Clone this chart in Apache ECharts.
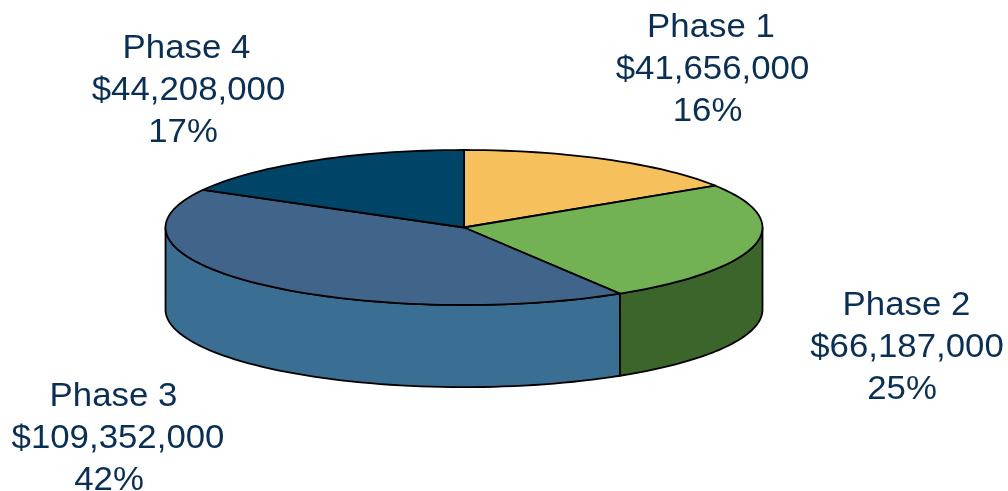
<!DOCTYPE html>
<html>
<head>
<meta charset="utf-8">
<style>html,body{margin:0;padding:0;background:#fff}#chart{width:1008px;height:491px}</style>
<script src="https://cdn.jsdelivr.net/npm/echarts@6/dist/echarts.min.js"></script>
</head>
<body>
<div id="chart"></div>
<script>
// Project budget by phase
const phases = ['Phase 1', 'Phase 2', 'Phase 3', 'Phase 4'];
const amounts = [41656000, 66187000, 109352000, 44208000];
const percents = [16, 25, 42, 17];

const topColors = ['#F6C05C', '#72B154', '#41658A', '#004468'];
const sideColors = ['#B38A3E', '#3B652B', '#3A6E92', '#00304A'];

// Disc size in pixels; drum thickness in units of the vertical radius
const DISC_RX = 298.5;
const DISC_RY = 77.5;
const DEPTH = 1.06;
const STEP = Math.PI / 90;
const TAU = Math.PI * 2;

const total = amounts.reduce((a, b) => a + b, 0);
const sliceRows = [];
amounts.forEach((v, i) => {
  const start = i ? sliceRows[i - 1][1] : 0;
  sliceRows.push([start, start + v / total, i]);
});

function arc(api, from, to, drop) {
  const pts = [];
  const n = Math.max(1, Math.ceil((to - from) / STEP));
  for (let k = 0; k <= n; k++) {
    const a = from + (to - from) * k / n;
    pts.push(api.coord([Math.sin(a), Math.cos(a) - drop]));
  }
  return pts;
}

const edge = { stroke: '#000', lineWidth: 1.8, lineJoin: 'round' };

function renderSlice(params, api) {
  const a0 = api.value(0) * TAU;
  const a1 = api.value(1) * TAU;
  const i = api.value(2);
  const children = [];
  // The wall is visible only on the near half of the disc
  const wallFrom = Math.max(a0, Math.PI / 2);
  const wallTo = Math.min(a1, Math.PI * 1.5);
  if (wallTo > wallFrom) {
    const upper = arc(api, wallFrom, wallTo, 0);
    const lower = arc(api, wallFrom, wallTo, DEPTH).reverse();
    children.push({
      type: 'polygon',
      shape: { points: upper.concat(lower) },
      style: Object.assign({ fill: sideColors[i] }, edge)
    });
  }
  const rim = arc(api, a0, a1, 0);
  children.push({
    type: 'polygon',
    shape: { points: [api.coord([0, 0])].concat(rim) },
    style: Object.assign({ fill: topColors[i] }, edge)
  });
  return { type: 'group', children };
}

const money = v => '$' + v.toLocaleString('en-US');

// Centre of the amount line, then sideways offsets of the name and percent lines
const labelAnchors = [
  { x: 712.5, y: 70, nameDx: -1.5, pctDx: -5 },
  { x: 907, y: 348, nameDx: -0.5, pctDx: -5 },
  { x: 118, y: 439, nameDx: -4.5, pctDx: -9 },
  { x: 188.5, y: 91, nameDx: -2, pctDx: -5.5 }
];
const LINE_GAP = 42;

function labelLine(text, x, y) {
  return {
    type: 'text',
    x,
    y,
    scaleX: 1.055,
    silent: true,
    style: {
      text,
      font: '33px "Liberation Sans", Arial, sans-serif',
      fill: '#0A2F55',
      align: 'center',
      verticalAlign: 'middle'
    }
  };
}

const labelGraphics = [];
phases.forEach((name, i) => {
  const a = labelAnchors[i];
  labelGraphics.push(
    labelLine(name, a.x + a.nameDx, a.y - LINE_GAP),
    labelLine(money(amounts[i]), a.x, a.y),
    labelLine(percents[i] + '%', a.x + a.pctDx, a.y + LINE_GAP)
  );
});

const chart = echarts.init(document.getElementById('chart'), null, { renderer: 'canvas' });
chart.setOption({
  animation: false,
  backgroundColor: '#fff',
  grid: { left: 464 - DISC_RX, top: 150, width: DISC_RX * 2, height: DISC_RY * (2 + DEPTH) },
  xAxis: { type: 'value', min: -1, max: 1, show: false },
  yAxis: { type: 'value', min: -1 - DEPTH, max: 1, show: false },
  series: [{
    type: 'custom',
    coordinateSystem: 'cartesian2d',
    clip: false,
    silent: true,
    data: sliceRows,
    renderItem: renderSlice
  }],
  graphic: labelGraphics
});
</script>
</body>
</html>
